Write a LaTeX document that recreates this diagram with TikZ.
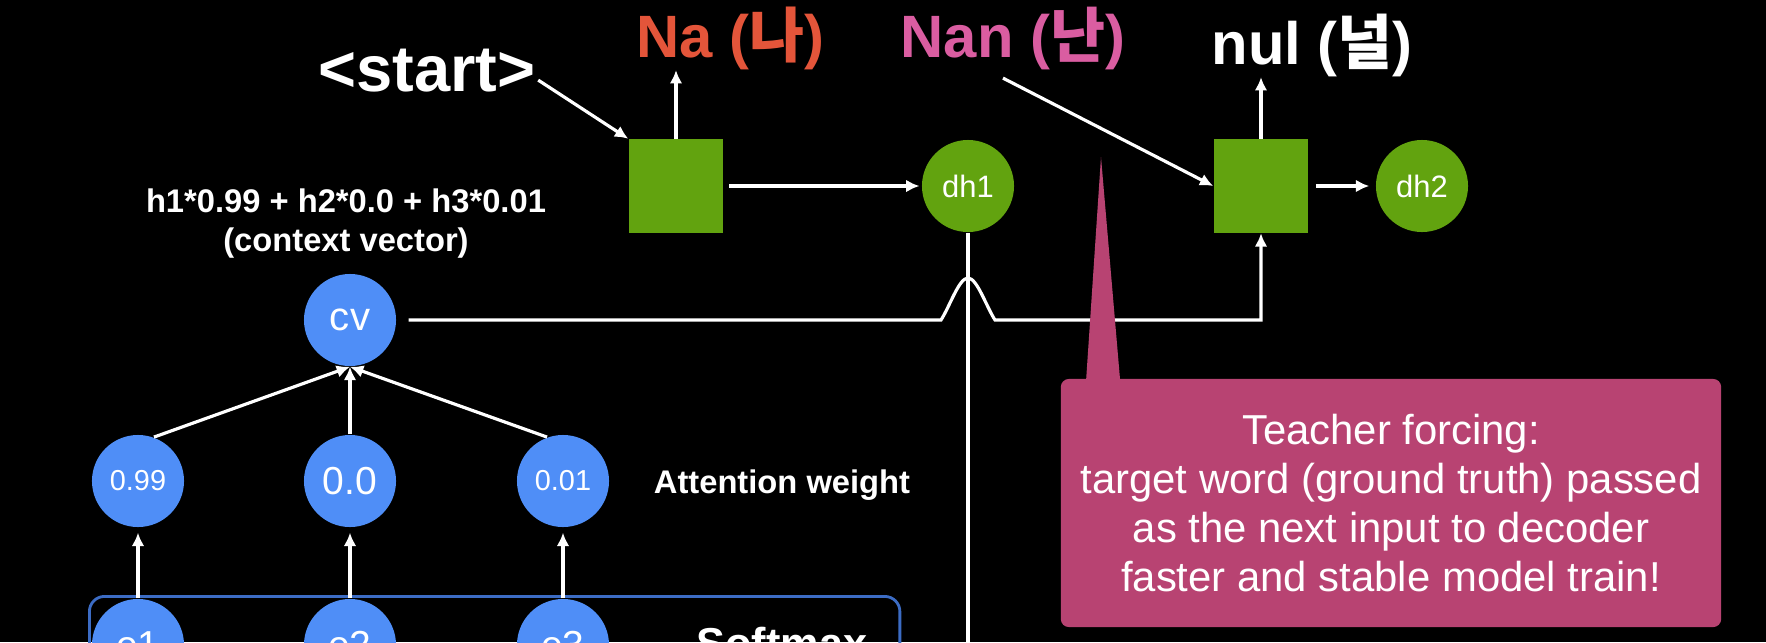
\documentclass[tikz,border=0pt]{standalone}
\usepackage{fontspec}
\setmainfont{Liberation Sans}
\newfontfamily\kr{Noto Sans CJK KR}
\usepackage{tikz}
\usetikzlibrary{calc, positioning, arrows.meta}

\definecolor{cellgreen}{HTML}{62A30F}
\definecolor{attblue}{HTML}{4F8EF7}
\definecolor{smblue}{HTML}{3C6CC4}
\definecolor{tfpink}{HTML}{B84372}
\definecolor{naorange}{HTML}{E4553A}
\definecolor{nanpink}{HTML}{DA5DA1}

\begin{document}
\begin{tikzpicture}[
        x=0.01cm, y=-0.01cm,
        wire/.style={draw=white, line width=0.9pt},
        arr/.style={wire, -{Latex[length=3.8pt, width=3.6pt]}},
        cell/.style={fill=cellgreen, minimum width=0.94cm, minimum height=0.93cm, inner sep=0pt},
        dstate/.style={circle, fill=cellgreen, minimum size=0.92cm, inner sep=0pt,
            text=white, font=\fontsize{8.8}{10}\selectfont},
        att/.style={circle, fill=attblue, minimum size=0.92cm, inner sep=0pt, text=white},
        word/.style={anchor=base, inner sep=0pt, font=\fontsize{17}{20}\selectfont\bfseries},
        caption/.style={text=white, inner sep=0pt, font=\fontsize{9.3}{11.1}\selectfont\bfseries},
        tfbox/.style={fill=tfpink, rounded corners=2.3pt, minimum width=6.6cm, minimum height=2.48cm,
            inner sep=0pt, text=white, align=center, font=\fontsize{11.9}{13.9}\selectfont},
    ]

    \def\ycell{186}
    \def\yatt{481}
    \def\ye{645}

    % Background
    \fill[black] (0,0) rectangle (1766,642);
    \useasboundingbox (0,0) rectangle (1766,642);
    \clip (0,0) rectangle (1766,642);

    % Decoder
    \node[cell] (cell1) at (676,\ycell) {};
    \node[dstate] (dh1) at (968,\ycell) {dh1};
    \node[cell] (cell2) at (1261,\ycell) {};
    \node[dstate] (dh2) at (1422,\ycell) {dh2};

    \node[word, text=white, font=\fontsize{18.5}{20}\selectfont\bfseries] (start) at (427,91) {<start>};
    \node[word, text=naorange] (na) at (730,57) {Na ({\kr 나})};
    \node[word, text=nanpink] (nan) at (1013,57) {Nan ({\kr 난})};
    \node[word, text=white] (nul) at (1312,64) {nul ({\kr 널})};

    % Attention
    \node[caption, align=center] (ctx) at (346,224) {h1*0.99 + h2*0.0 + h3*0.01\\(context vector)};
    \node[att, font=\fontsize{11.4}{12}\selectfont] (cv) at (350,320) {cv};

    \node[att, font=\fontsize{8.2}{10}\selectfont] (w1) at (138,\yatt) {0.99};
    \node[att, font=\fontsize{11.1}{12}\selectfont] (w2) at (350,\yatt) {0.0};
    \node[att, font=\fontsize{8.2}{10}\selectfont] (w3) at (563,\yatt) {0.01};
    \node[caption, anchor=base] (attw) at (782,493) {Attention weight};

    \node[draw=smblue, line width=0.8pt, rounded corners=4.3pt, minimum width=8.1cm,
        minimum height=1.4cm, anchor=north west] (smbox) at (88,595) {};
    \node[att, font=\fontsize{11.1}{12}\selectfont] (e1) at (138,\ye) {e1};
    \node[att, font=\fontsize{11.1}{12}\selectfont] (e2) at (350,\ye) {e2};
    \node[att, font=\fontsize{11.1}{12}\selectfont] (e3) at (563,\ye) {e3};
    \node[caption, anchor=base, font=\fontsize{12.3}{14}\selectfont\bfseries] (sm) at (782,658) {Softmax};

    % Connectors
    \draw[arr] ($(start.east)+(2,10)$) -- (cell1.north west);
    \draw[arr] (cell1.north) -- (cell1.north |- na.south);
    \draw[arr, shorten <=1.5pt, shorten >=0.5pt] (cell1.east) -- (dh1.west);
    \draw[arr] ($(nan.south)+(-10,8)$) -- (cell2.west);
    \draw[arr] (cell2.north) -- (cell2.north |- nul.south);
    \draw[arr, shorten <=2pt, shorten >=1.7pt] (cell2.east) -- (dh2.west);

    \draw[arr, shorten >=1.4pt] (e1.north) -- (w1.south);
    \draw[arr, shorten >=1.4pt] (e2.north) -- (w2.south);
    \draw[arr, shorten >=1.4pt] (e3.north) -- (w3.south);
    \draw[arr] (w1.70) -- (cv.south);
    \draw[arr] (w2.north) -- (cv.south);
    \draw[arr] (w3.110) -- (cv.south);

    \coordinate (bottom) at (968,700);
    \draw[wire] (dh1.south) -- (dh1.south |- bottom);

    \coordinate (hop) at (dh1.center |- cv.center);
    \draw[arr, shorten <=3.4pt] (cv.east) -- ($(hop)+(-27,0)$)
        .. controls ($(hop)+(-18,-14)$) and ($(hop)+(-9,-42)$) .. ($(hop)+(0,-42)$)
        .. controls ($(hop)+(9,-42)$) and ($(hop)+(18,-14)$) .. ($(hop)+(27,0)$)
        -- (cell2.south |- hop) -- (cell2.south);

    % Teacher forcing note
    \node[tfbox] (tf) at (1391,503) {Teacher forcing:\\target word (ground truth) passed\\as the next input to decoder\\faster and stable model train!};
    \coordinate (tftip) at (1101,157);
    \fill[tfpink] ($(tf.north west)+(26,2)$) -- (tftip) -- ($(tf.north west)+(60,2)$) -- cycle;

\end{tikzpicture}
\end{document}
